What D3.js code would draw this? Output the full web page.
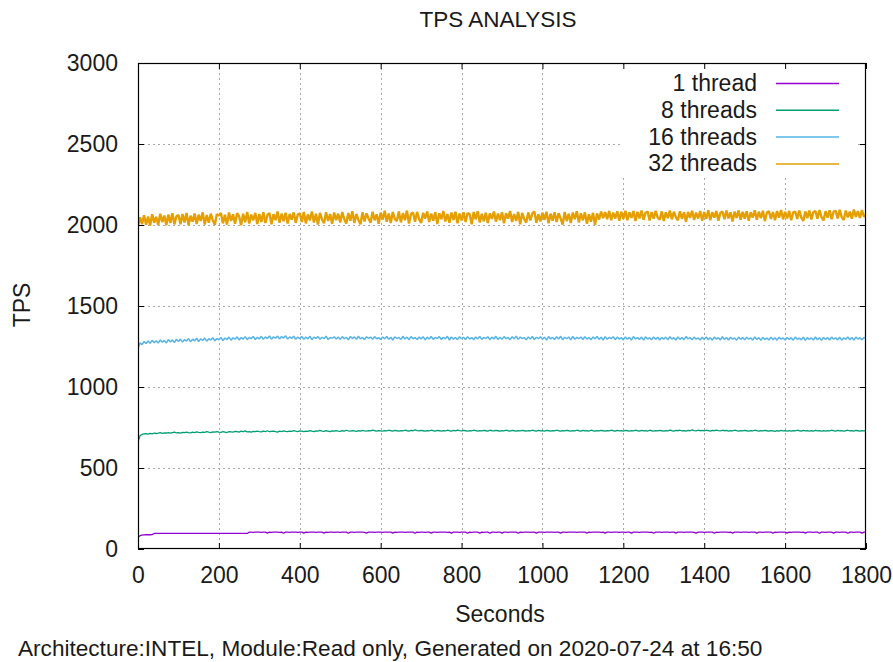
<!DOCTYPE html>
<html>
<head>
<meta charset="utf-8">
<script src="https://cdn.jsdelivr.net/npm/d3@7/dist/d3.min.js"></script>
<style>
  html, body { margin: 0; padding: 0; background: #fff; }
  svg { display: block; }
  text { font-family: "Liberation Sans", Arial, sans-serif; fill: #1a1a1a; }
</style>
</head>
<body>
<svg id="chart" width="893" height="662"></svg>
<script>
// TPS samples, one value every 5 seconds from 0 to 1800 s
const sampleStep = 5;

const tps1 = [
  72,82,86,87,88,88,88,89,96,96,96,96,96,96,96,96,96,96,96,96,
  96,96,97,96,96,96,96,97,96,96,96,96,96,97,96,96,96,96,96,97,
  96,97,96,96,96,97,96,96,96,96,97,96,96,96,96,104,104,103,104,104,
  104,103,104,104,98,104,103,104,104,104,103,104,97,104,104,103,104,104,104,103,
  104,104,98,104,103,104,104,104,103,104,104,104,98,104,103,104,104,103,104,104,
  103,104,104,104,97,104,104,103,104,104,104,104,103,98,104,104,104,103,104,104,
  104,103,104,104,104,104,98,104,103,104,104,104,103,104,104,104,104,97,104,103,
  104,104,103,104,104,98,104,104,103,104,104,104,104,103,104,98,104,104,104,103,
  104,104,104,97,104,103,104,104,104,98,104,103,104,104,97,104,104,103,104,104,
  98,104,104,103,104,104,104,104,97,104,103,104,104,104,103,104,104,98,104,104,
  104,103,104,104,104,104,103,104,104,98,104,104,103,104,104,104,104,103,104,104,
  104,104,97,104,103,104,104,104,104,103,104,98,104,104,103,104,104,104,103,104,
  104,103,104,104,98,104,104,104,103,104,104,104,104,103,104,97,104,104,104,103,
  104,104,104,103,104,104,98,104,104,104,103,104,104,104,104,103,98,104,104,104,
  103,104,104,104,104,97,104,103,104,104,104,104,103,104,98,104,104,104,103,104,
  104,104,103,104,104,104,98,104,104,103,104,104,104,104,97,104,103,104,104,104,
  104,98,104,103,104,104,104,104,103,104,98,104,104,104,103,104,104,97,104,104,
  103,104,104,104,98,104,104,103,104,104,104,97,104,104,103,104,104,104,98,104,
  104
];

const tps8 = [
  662,700,707,710,712,709,714,711,716,713,715,718,714,717,716,719,715,718,721,717,
  719,716,720,718,722,719,717,721,719,723,720,718,722,720,724,721,719,723,721,725,
  722,720,724,722,719,725,723,721,726,724,722,727,724,729,723,725,722,726,724,728,
  725,723,727,725,730,724,726,728,725,722,727,725,729,726,724,728,726,730,727,725,
  729,727,724,728,726,731,727,725,729,727,732,728,726,730,728,725,729,727,731,728,
  726,730,728,733,729,727,731,729,726,730,728,732,729,727,731,729,734,730,728,731,
  729,727,731,729,733,730,728,732,730,727,731,729,733,730,728,732,730,735,731,729,
  732,730,728,731,729,733,730,728,732,730,727,731,729,733,730,728,732,729,734,731,
  729,732,730,728,731,729,733,730,727,731,729,732,730,728,733,730,729,732,730,728,
  731,729,733,730,728,732,730,727,731,729,732,730,728,731,729,733,730,728,732,729,
  731,728,732,730,727,731,729,733,730,728,731,729,732,730,727,731,729,733,730,728,
  732,729,731,728,733,730,728,731,729,732,730,727,731,729,733,730,728,732,729,731,
  728,732,730,727,731,729,733,730,728,732,729,731,728,733,730,728,731,729,732,730,
  727,731,729,734,730,728,732,730,733,729,731,728,732,730,735,731,729,733,730,732,
  729,733,731,728,732,730,734,731,729,733,730,732,728,731,729,733,730,727,731,729,
  732,730,728,731,729,733,730,727,731,729,732,730,728,731,729,726,730,728,732,729,
  731,728,730,727,731,729,733,730,728,732,729,731,727,730,728,732,729,731,728,730,
  727,731,729,733,730,728,732,729,731,728,730,733,729,731,728,732,730,727,731,729,
  730
];

const tps16 = [
  1240,1272,1262,1281,1268,1284,1270,1288,1273,1286,1271,1290,1276,1288,1272,1293,1278,1291,1274,1295,
  1280,1296,1277,1293,1283,1299,1279,1295,1285,1301,1281,1297,1287,1302,1283,1298,1290,1304,1285,1300,
  1291,1306,1287,1302,1293,1308,1289,1304,1295,1310,1290,1305,1296,1311,1292,1306,1298,1312,1293,1307,
  1296,1313,1294,1309,1299,1315,1295,1310,1301,1314,1297,1311,1302,1316,1296,1309,1300,1313,1295,1308,
  1299,1312,1294,1309,1297,1313,1292,1308,1300,1311,1295,1307,1298,1314,1293,1306,1301,1310,1296,1308,
  1294,1311,1298,1307,1291,1312,1299,1309,1295,1313,1297,1306,1292,1310,1300,1308,1294,1311,1298,1305,
  1293,1309,1297,1312,1295,1307,1290,1310,1299,1306,1294,1313,1296,1308,1292,1311,1298,1305,1293,1309,
  1297,1310,1291,1308,1296,1312,1294,1306,1299,1311,1293,1307,1297,1313,1290,1309,1295,1306,1292,1310,
  1298,1307,1293,1311,1296,1305,1291,1309,1297,1312,1294,1306,1299,1310,1292,1308,1296,1313,1293,1307,
  1295,1311,1298,1306,1292,1310,1297,1314,1294,1308,1299,1305,1291,1309,1296,1312,1293,1307,1298,1310,
  1294,1308,1290,1311,1297,1306,1293,1310,1296,1313,1292,1307,1298,1309,1291,1312,1295,1306,1299,1308,
  1293,1310,1296,1305,1291,1309,1297,1312,1294,1307,1290,1311,1295,1306,1298,1310,1292,1308,1296,1304,
  1291,1309,1295,1306,1290,1311,1297,1305,1293,1308,1289,1310,1296,1304,1292,1309,1294,1307,1290,1306,
  1295,1308,1291,1310,1296,1304,1290,1309,1294,1306,1292,1311,1297,1305,1291,1308,1295,1303,1290,1307,
  1294,1309,1292,1305,1289,1308,1296,1304,1291,1310,1293,1306,1290,1307,1295,1303,1289,1308,1294,1305,
  1291,1307,1295,1303,1290,1309,1293,1305,1288,1306,1294,1302,1290,1308,1292,1304,1289,1307,1295,1303,
  1290,1306,1293,1304,1289,1308,1294,1302,1291,1307,1288,1305,1293,1303,1290,1309,1292,1304,1289,1306,
  1293,1305,1290,1308,1295,1303,1291,1307,1289,1304,1294,1309,1292,1305,1290,1308,1296,1304,1291,1306,
  1300
];

const tps32 = [
  1992,2048,2005,2060,2001,2052,1996,2066,2014,2050,2000,2070,2018,2058,1998,2064,2012,2072,2004,2054,
  2062,2004,2068,2015,2074,1999,2057,2021,2071,2006,2064,2025,2078,2003,2061,2014,2070,2028,2001,2067,
  2058,2074,2010,2063,2002,2077,2025,2066,2008,2073,2054,1999,2069,2017,2080,2009,2064,2029,2075,2006,
  2068,2018,2079,2012,2062,2074,2005,2067,2030,2083,2014,2070,2024,2076,2009,2068,2033,2078,2013,2064,
  2072,2019,2080,2010,2065,2028,2083,2015,2069,2003,2075,2034,2011,2079,2025,2068,2007,2077,2030,2070,
  2016,2080,2036,2009,2074,2026,2085,2012,2068,2031,2005,2078,2022,2072,2040,2014,2082,2029,2066,2008,
  2076,2034,2088,2020,2071,2012,2080,2038,2024,2084,2016,2073,2030,2089,2009,2068,2077,2020,2081,2036,
  2013,2075,2040,2083,2018,2070,2027,2079,2006,2072,2036,2086,2022,2067,2014,2077,2031,2082,2010,2071,
  2028,2078,2019,2074,2066,2004,2080,2035,2085,2016,2069,2024,2076,2012,2072,2038,2083,2021,2070,2030,
  2079,2011,2073,2039,2086,2018,2068,2025,2081,2005,2075,2036,2015,2078,2028,2071,2084,2013,2067,2022,
  2076,2032,2082,2010,2070,2026,2079,2018,2073,2040,2003,2080,2024,2069,2012,2077,2036,2085,2016,2072,
  2029,2078,2007,2067,2020,2075,2002,2071,2034,2083,2042,2080,2036,2087,2030,2077,2040,2085,2027,2081,
  2038,2088,2030,2078,2044,2086,2024,2081,2040,2090,2032,2076,2084,2028,2080,2039,2087,2045,2033,2084,
  2025,2078,2042,2089,2035,2082,2047,2029,2085,2038,2079,2020,2081,2044,2088,2032,2077,2040,2086,2026,
  2080,2037,2091,2030,2079,2045,2087,2026,2076,2083,2036,2089,2041,2078,2022,2082,2044,2090,2032,2081,
  2039,2085,2027,2079,2046,2091,2033,2082,2042,2088,2024,2077,2084,2038,2080,2029,2086,2045,2093,2035,
  2081,2041,2087,2030,2078,2083,2037,2090,2046,2025,2084,2043,2089,2034,2080,2086,2039,2092,2048,2028,
  2085,2045,2091,2036,2082,2087,2040,2094,2049,2031,2089,2047,2083,2039,2095,2050,2086,2043,2092,2052,
  2060
];

const seriesNames = ["1 thread", "8 threads", "16 threads", "32 threads"];
const seriesColors = ["#9400d3", "#009e73", "#56b4e9", "#e69f00"];
const seriesValues = [tps1, tps8, tps16, tps32];
const seriesWidths = [1.3, 1.3, 1.5, 2.4];

const xTicks = [0, 200, 400, 600, 800, 1000, 1200, 1400, 1600, 1800];
const yTicks = [0, 500, 1000, 1500, 2000, 2500, 3000];

const titleText = "TPS ANALYSIS";
const xLabel = "Seconds";
const yLabel = "TPS";
const footerText = "Architecture:INTEL, Module:Read only, Generated on 2020-07-24 at 16:50";

// ---- layout ----
const svg = d3.select("#chart");
const plot = { left: 138, right: 866, top: 63, bottom: 549 };
const fontSize = 23;
const tickLen = 6;

const x = d3.scaleLinear().domain([0, 1800]).range([plot.left, plot.right]);
const y = d3.scaleLinear().domain([0, 3000]).range([plot.bottom, plot.top]);

// grid
const grid = svg.append("g")
  .attr("stroke", "#a8a8a8")
  .attr("stroke-width", 1)
  .attr("stroke-dasharray", "2,3");
grid.selectAll("line.gx").data(xTicks.slice(1, -1)).join("line")
  .attr("x1", d => Math.round(x(d)) + 0.5).attr("x2", d => Math.round(x(d)) + 0.5)
  .attr("y1", plot.top).attr("y2", plot.bottom);
grid.selectAll("line.gy").data(yTicks.slice(1, -1)).join("line")
  .attr("y1", d => Math.round(y(d)) + 0.5).attr("y2", d => Math.round(y(d)) + 0.5)
  .attr("x1", plot.left).attr("x2", plot.right);

// key background (opaque, hides grid behind it)
const key = { left: 622, right: 857, top: 66, bottom: 176 };
svg.append("rect")
  .attr("x", key.left).attr("y", key.top)
  .attr("width", key.right - key.left).attr("height", key.bottom - key.top)
  .attr("fill", "#fff");

// data lines
const line = d3.line()
  .x((d, i) => x(i * sampleStep))
  .y(d => y(d));

svg.append("clipPath").attr("id", "plotclip")
  .append("rect")
  .attr("x", plot.left).attr("y", plot.top)
  .attr("width", plot.right - plot.left).attr("height", plot.bottom - plot.top);

svg.append("g").attr("clip-path", "url(#plotclip)")
  .selectAll("path").data(seriesValues).join("path")
  .attr("d", d => line(d))
  .attr("fill", "none")
  .attr("stroke", (d, i) => seriesColors[i])
  .attr("stroke-width", (d, i) => seriesWidths[i])
  .attr("stroke-linejoin", "bevel");

// axes with inward ticks, mirrored on top and right
function styleAxis(g) {
  g.select(".domain").remove();
  g.selectAll(".tick line").attr("stroke", "#000").attr("stroke-width", 1);
  g.selectAll(".tick text")
    .style("font-family", '"Liberation Sans", Arial, sans-serif')
    .style("font-size", fontSize + "px")
    .attr("fill", "#1a1a1a");
}

svg.append("g")
  .attr("transform", `translate(0,${plot.bottom})`)
  .call(d3.axisBottom(x).tickValues(xTicks).tickFormat(d3.format("d"))
    .tickSizeInner(-tickLen).tickSizeOuter(0).tickPadding(18))
  .call(styleAxis);

svg.append("g")
  .attr("transform", `translate(0,${plot.top})`)
  .call(d3.axisTop(x).tickValues(xTicks).tickFormat("")
    .tickSizeInner(-tickLen).tickSizeOuter(0))
  .call(styleAxis);

svg.append("g")
  .attr("transform", `translate(${plot.left},0)`)
  .call(d3.axisLeft(y).tickValues(yTicks).tickFormat(d3.format("d"))
    .tickSizeInner(-tickLen).tickSizeOuter(0).tickPadding(20))
  .call(styleAxis);

svg.append("g")
  .attr("transform", `translate(${plot.right},0)`)
  .call(d3.axisRight(y).tickValues(yTicks).tickFormat("")
    .tickSizeInner(-tickLen).tickSizeOuter(0))
  .call(styleAxis);

// border
svg.append("rect")
  .attr("x", plot.left + 0.5).attr("y", plot.top + 0.5)
  .attr("width", plot.right - plot.left - 1).attr("height", plot.bottom - plot.top - 1)
  .attr("fill", "none").attr("stroke", "#000").attr("stroke-width", 1.2);

// key entries
const keyRows = svg.append("g").selectAll("g").data(seriesNames).join("g")
  .attr("transform", (d, i) => `translate(0,${83 + i * 26.8})`);
keyRows.append("text")
  .attr("x", 757).attr("y", 8)
  .attr("text-anchor", "end")
  .style("font-size", fontSize + "px")
  .text(d => d);
keyRows.append("line")
  .attr("x1", 776).attr("x2", 839).attr("y1", 0.5).attr("y2", 0.5)
  .attr("stroke", (d, i) => seriesColors[i])
  .attr("stroke-width", 1.5);

// titles
svg.append("text")
  .attr("x", 498).attr("y", 27)
  .attr("text-anchor", "middle")
  .style("font-size", "22.5px")
  .text(titleText);

svg.append("text")
  .attr("x", 500).attr("y", 622)
  .attr("text-anchor", "middle")
  .style("font-size", fontSize + "px")
  .text(xLabel);

svg.append("text")
  .attr("transform", "translate(30,305) rotate(-90)")
  .attr("text-anchor", "middle")
  .style("font-size", fontSize + "px")
  .text(yLabel);

svg.append("text")
  .attr("x", 18).attr("y", 656)
  .style("font-size", "22.6px")
  .text(footerText);
</script>
</body>
</html>
